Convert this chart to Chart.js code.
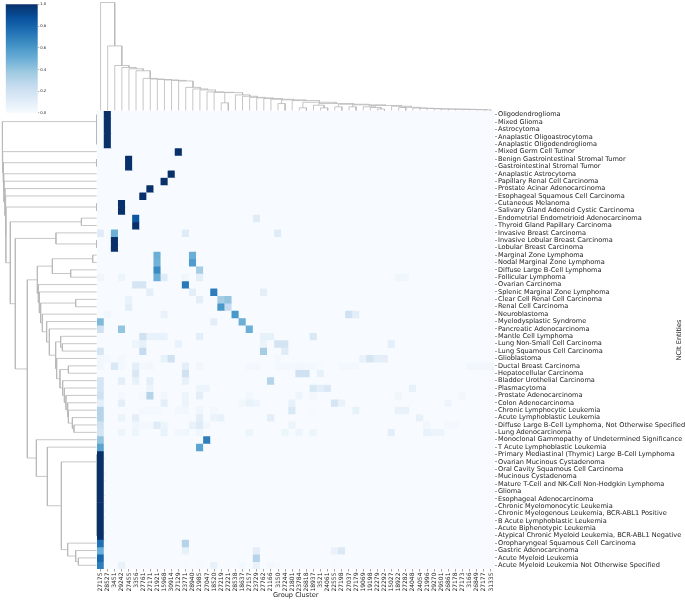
<!DOCTYPE html>
<html>
<head>
<meta charset="utf-8">
<title>NCIt Entities by Group Cluster</title>
<script src="https://cdn.jsdelivr.net/npm/chart.js@4"></script>
<style>
    html, body { margin: 0; padding: 0; background: #fff; overflow: hidden; }
    canvas { position: absolute; left: 0; top: 0; }
</style>
</head>
<body>
<canvas id="colorbarChart" width="685" height="602"></canvas>
<canvas id="topTreeChart" width="685" height="602"></canvas>
<canvas id="leftTreeChart" width="685" height="602"></canvas>
<canvas id="heatChart" width="685" height="602"></canvas>
<script>
const colLabels = ['27175', '28527', '3451', '29242', '27455', '3356', '27761', '27171', '21921', '15968',
    '30914', '27129', '23771', '28940', '21985', '27047', '18520', '27219', '27221', '28538',
    '18637', '27157', '23729', '27762', '21166', '3150', '27244', '21801', '23784', '26818',
    '18937', '3521', '24061', '22555', '27198', '27037', '27179', '19069', '19198', '22279',
    '22292', '15027', '18922', '27282', '24048', '24054', '21996', '29270', '29501', '26861',
    '27178', '27173', '3166', '26849', '27177', '31335'];

const rowLabels = ['Oligodendroglioma', 'Mixed Glioma', 'Astrocytoma', 'Anaplastic Oligoastrocytoma',
    'Anaplastic Oligodendroglioma', 'Mixed Germ Cell Tumor', 'Benign Gastrointestinal Stromal Tumor',
    'Gastrointestinal Stromal Tumor', 'Anaplastic Astrocytoma', 'Papillary Renal Cell Carcinoma',
    'Prostate Acinar Adenocarcinoma', 'Esophageal Squamous Cell Carcinoma', 'Cutaneous Melanoma',
    'Salivary Gland Adenoid Cystic Carcinoma', 'Endometrial Endometrioid Adenocarcinoma',
    'Thyroid Gland Papillary Carcinoma', 'Invasive Breast Carcinoma', 'Invasive Lobular Breast Carcinoma',
    'Lobular Breast Carcinoma', 'Marginal Zone Lymphoma', 'Nodal Marginal Zone Lymphoma',
    'Diffuse Large B-Cell Lymphoma', 'Follicular Lymphoma', 'Ovarian Carcinoma',
    'Splenic Marginal Zone Lymphoma', 'Clear Cell Renal Cell Carcinoma', 'Renal Cell Carcinoma',
    'Neuroblastoma', 'Myelodysplastic Syndrome', 'Pancreatic Adenocarcinoma', 'Mantle Cell Lymphoma',
    'Lung Non-Small Cell Carcinoma', 'Lung Squamous Cell Carcinoma', 'Glioblastoma',
    'Ductal Breast Carcinoma', 'Hepatocellular Carcinoma', 'Bladder Urothelial Carcinoma', 'Plasmacytoma',
    'Prostate Adenocarcinoma', 'Colon Adenocarcinoma', 'Chronic Lymphocytic Leukemia',
    'Acute Lymphoblastic Leukemia', 'Diffuse Large B-Cell Lymphoma, Not Otherwise Specified',
    'Lung Adenocarcinoma', 'Monoclonal Gammopathy of Undetermined Significance',
    'T Acute Lymphoblastic Leukemia', 'Primary Mediastinal (Thymic) Large B-Cell Lymphoma',
    'Ovarian Mucinous Cystadenoma', 'Oral Cavity Squamous Cell Carcinoma', 'Mucinous Cystadenoma',
    'Mature T-Cell and NK-Cell Non-Hodgkin Lymphoma', 'Glioma', 'Esophageal Adenocarcinoma',
    'Chronic Myelomonocytic Leukemia', 'Chronic Myelogenous Leukemia, BCR-ABL1 Positive',
    'B Acute Lymphoblastic Leukemia', 'Acute Biphenotypic Leukemia',
    'Atypical Chronic Myeloid Leukemia, BCR-ABL1 Negative', 'Oropharyngeal Squamous Cell Carcinoma',
    'Gastric Adenocarcinoma', 'Acute Myeloid Leukemia', 'Acute Myeloid Leukemia Not Otherwise Specified'];

// non zero cells: [row, column, value], row and column counted from 1 as in the picture
const heatCells = [
    [1,2,1],[2,2,1],[3,2,1],[4,2,1],[5,2,1],[6,12,1],[7,5,1],[8,5,1],[9,11,1],[10,10,1],[11,8,1],[12,7,1],
    [13,4,1],[14,4,1],[15,6,.85],[15,23,.12],[16,6,1],[17,1,.12],[17,3,.5],[17,13,.12],[17,26,.12],
    [18,3,1],[19,3,1],[20,9,.5],[20,14,.5],[21,9,.48],[21,14,.58],[22,9,.65],[22,15,.35],
    [23,1,.04],[23,4,.05],[23,9,.5],[23,10,.12],[23,13,.04],[23,15,.1],[23,43,.04],[23,44,.04],
    [24,6,.17],[24,7,.17],[24,13,.72],[25,8,.1],[25,14,.1],[25,17,.7],[25,24,.1],
    [26,5,.07],[26,15,.1],[26,18,.35],[26,19,.4],[27,5,.1],[27,18,.6],[27,19,.25],
    [28,2,.03],[28,10,.07],[28,20,.6],[28,36,.2],[28,37,.1],[29,1,.45],[29,17,.1],[29,21,.5],
    [30,1,.2],[30,4,.4],[30,22,.5],[31,7,.2],[31,8,.07],[31,9,.07],[31,10,.07],[31,15,.1],[31,24,.08],[31,25,.08],[31,31,.15],
    [32,6,.05],[32,7,.08],[32,12,.07],[32,24,.06],[32,26,.18],[32,27,.18],[32,42,.1],
    [33,1,.17],[33,7,.25],[33,24,.35],[33,27,.12],
    [34,1,.03],[34,2,.02],[34,4,.02],[34,10,.08],[34,11,.2],[34,26,.02],[34,38,.07],[34,39,.17],[34,40,.1],[34,41,.1],
    [35,1,.03],[35,3,.15],[35,4,.02],[35,6,.1],[35,7,.02],[35,8,.03],[35,13,.1],[35,15,.03],[35,22,.02],[35,23,.02],
    [35,26,.02],[35,27,.02],[35,28,.02],[35,29,.03],[35,30,.02],[35,31,.02],[35,32,.01],[35,35,.02],[35,36,.02],[35,37,.02],
    [35,53,.03],[35,54,.03],[35,55,.03],[35,56,.03],
    [36,6,.15],[36,13,.2],[36,29,.2],[36,30,.2],[36,32,.08],
    [37,1,.17],[37,4,.1],[37,6,.08],[37,8,.1],[37,13,.08],[37,25,.3],
    [38,1,.17],[38,8,.06],[38,15,.05],[38,16,.05],[38,31,.15],[38,32,.1],[38,33,.14],[38,45,.08],
    [39,1,.2],[39,4,.02],[39,7,.02],[39,8,.3],[39,10,.03],[39,13,.05],[39,15,.1],[39,22,.03],[39,29,.05],[39,31,.03],[39,43,.04],[39,52,.03],
    [40,1,.1],[40,4,.1],[40,10,.1],[40,13,.05],[40,21,.03],[40,22,.07],[40,23,.05],[40,28,.08],[40,34,.17],[40,35,.07],[40,50,.05],
    [41,1,.3],[41,7,.02],[41,8,.02],[41,9,.02],[41,12,.03],[41,13,.03],[41,15,.04],[41,17,.02],[41,28,.15],[41,31,.01],[41,37,.08],[41,43,.07],[41,44,.07],
    [42,1,.3],[42,4,.06],[42,6,.1],[42,15,.1],[42,17,.06],[42,18,.08],[42,25,.1],[42,46,.08],
    [43,1,.2],[43,6,.04],[43,7,.02],[43,8,.02],[43,9,.12],[43,10,.05],[43,14,.07],[43,15,.12],[43,16,.03],[43,28,.05],[43,47,.03],[43,50,.02],[43,51,.02],
    [44,1,.18],[44,4,.05],[44,6,.05],[44,10,.07],[44,12,.03],[44,13,.04],[44,15,.04],[44,22,.05],[44,27,.05],[44,29,.05],[44,31,.05],[44,42,.1],[44,47,.07],[44,48,.06],[44,49,.05],
    [45,1,.4],[45,16,.7],[46,1,.55],[46,15,.55],
    [47,1,1],[48,1,1],[49,1,1],[50,1,1],[51,1,1],[52,1,1],[53,1,1],[54,1,1],[55,1,1],[56,1,1],[57,1,1],[58,1,1],
    [59,1,.75],[59,13,.3],[60,1,.5],[60,13,.08],[60,23,.1],[60,34,.07],[60,35,.14],[61,1,.78],[61,23,.3],
    [62,1,.7],[62,4,.07],[62,13,.01],[62,15,.01],[62,17,.08],[62,21,.02],[62,23,.07],[62,25,.02],[62,26,.01],[62,34,.01],[62,51,.01]
];

// tree links, like a scipy linkage: two children and the distance they join at
// child >= 0 is a leaf position, child -k is the result of link number k (counted from 1)
const colLinkA = [54,53,52,51,50,49,48,47,46,45,44,42,-12,41,39,38,37,-17,35,-19,33,-21,31,30,-24,28,-26,27,25,-29,
    24,23,22,21,20,19,17,-37,16,15,14,13,12,11,10,9,8,7,6,5,4,3,2,1,0];
const colLinkB = [55,-1,-2,-3,-4,-5,-6,-7,-8,-9,-10,43,-11,-13,40,-15,-16,-14,36,-18,34,-20,32,-23,-22,29,-25,-27,26,-28,
    -30,-31,-32,-33,-34,-35,18,-36,-38,-39,-40,-41,-42,-43,-44,-45,-46,-47,-48,-49,-50,-51,-52,-53,-54];
const colLinkDist = [.7,.8,1,1.2,1.3,1.4,1.5,1.7,2,2.3,2.5,3,3.2,4.3,1.5,3,3.7,5,3.7,5.7,3.7,6.3,2.7,5.3,7,2.7,8.3,10,7,10.7,
    11.3,12,12.7,13.2,14.3,15.7,7.7,18,18.3,18.7,20.7,21.7,23.3,29.7,30.3,30.7,31.2,31.7,32.3,40,42,43.3,45.3,65,108.7];

const rowLinkA = [3,2,1,0,56,55,54,53,52,51,50,49,48,47,46,60,59,58,-15,45,44,42,41,40,39,38,37,36,34,-29,33,31,30,-33,29,28,27,25,-38,24,23,
    19,21,-42,-44,-45,17,16,-48,14,-50,12,-52,11,10,9,8,6,-58,5,-4];
const rowLinkB = [4,-1,-2,-3,57,-5,-6,-7,-8,-9,-10,-11,-12,-13,-14,61,-16,-17,-18,-19,-20,43,-22,-23,-24,-25,-26,-27,35,-28,-30,32,-32,-31,-34,-35,-36,26,-37,-39,-40,
    20,22,-43,-41,-21,18,-47,-46,15,-49,13,-51,-53,-54,-55,-56,7,-57,-59,-60];
const rowLinkDist = [.1,.1,.1,.1,.1,.1,.1,.1,.1,.1,.1,.1,.1,.1,.1,18.3,21,29,35.3,49.3,60.3,22.7,24.3,28.3,29,30.7,32.3,34,28.3,36.7,40,34.3,36,41,47.3,50,54.3,21,56,57.3,58.3,
    4,26,44.3,59.3,69.3,.3,40.7,81.3,15.3,86.3,.3,90.7,91.3,91.7,92.7,93,.3,93.5,94,94.3];

const colorbarTicks = [0, 0.2, 0.4, 0.6, 0.8, 1.0];
const bluesStops = ['#f7fbff', '#deebf7', '#c6dbef', '#9ecae1', '#6baed6', '#4292c6', '#2171b5', '#08519c', '#08306b'];

Chart.defaults.font.family = '"DejaVu Sans", sans-serif';
Chart.defaults.color = '#222';
Chart.defaults.animation = false;

const ROW_LABEL_SIZE = 6.6;
const COL_LABEL_SIZE = 6;
const TREE_COLOR = '#b8b8b8';
const TICK_COLOR = '#666';

function hexToRgb(hex) {
    return [1, 3, 5].map(function(i) { return parseInt(hex.substr(i, 2), 16); });
}

function blues(v) {
    const pos = v * (bluesStops.length - 1);
    const i = Math.min(Math.floor(pos), bluesStops.length - 2);
    const a = hexToRgb(bluesStops[i]);
    const b = hexToRgb(bluesStops[i + 1]);
    const t = pos - i;
    return 'rgb(' + a.map(function(c, k) { return Math.round(c + (b[k] - c) * t); }).join(',') + ')';
}

// turn the link table into the U shaped lines of a dendrogram
function treeLinks(linkA, linkB, linkDist) {
    const nodes = [];
    function child(id) {
        return id >= 0 ? { pos: id, dist: 0 } : nodes[-id - 1];
    }
    return linkDist.map(function(dist, i) {
        const a = child(linkA[i]);
        const b = child(linkB[i]);
        nodes.push({ pos: (a.pos + b.pos) / 2, dist: dist });
        return [[a.pos, a.dist], [a.pos, dist], [b.pos, dist], [b.pos, b.dist]];
    });
}

function treeDatasets(links, pointOf) {
    return links.map(function(link) {
        return {
            data: link.map(pointOf),
            showLine: true,
            borderColor: TREE_COLOR,
            borderWidth: 0.8,
            pointRadius: 0,
            clip: false
        };
    });
}

const noExtras = { legend: { display: false }, tooltip: { enabled: false } };

// heatmap, one dataset of floating bars per row
const cellValues = rowLabels.map(function() { return colLabels.map(function() { return 0; }); });
heatCells.forEach(function(cell) {
    cellValues[cell[0] - 1][cell[1] - 1] = cell[2];
});

const rowTitlePlugin = {
    id: 'rowTitle',
    afterDraw: function(chart) {
        const ctx = chart.ctx;
        ctx.save();
        ctx.translate(679, 340);
        ctx.rotate(-Math.PI / 2);
        ctx.font = ROW_LABEL_SIZE + 'px "DejaVu Sans"';
        ctx.fillStyle = '#222';
        ctx.textAlign = 'center';
        ctx.textBaseline = 'middle';
        ctx.fillText('NCIt Entities', 0, 0);
        ctx.restore();
    }
};

new Chart(document.getElementById('heatChart'), {
    type: 'bar',
    data: {
        labels: colLabels,
        datasets: cellValues.map(function(row, r) {
            return {
                data: row.map(function() { return [r - 0.5, r + 0.5]; }),
                backgroundColor: row.map(blues),
                barPercentage: 1,
                categoryPercentage: 1,
                grouped: false
            };
        })
    },
    options: {
        responsive: false,
        layout: { padding: { left: 97, top: 111 } },
        plugins: noExtras,
        scales: {
            x: {
                afterFit: function(scale) { scale.height = 33; },
                grid: { offset: false, drawOnChartArea: false, tickLength: 2.5, color: TICK_COLOR, lineWidth: 0.6 },
                border: { display: false },
                ticks: { autoSkip: false, minRotation: 90, maxRotation: 90, padding: 1, font: { size: COL_LABEL_SIZE } },
                title: { display: true, text: 'Group Cluster', font: { size: ROW_LABEL_SIZE }, padding: { top: 0, bottom: 2.5 } }
            },
            y: {
                type: 'linear',
                position: 'right',
                reverse: true,
                min: -0.5,
                max: rowLabels.length - 0.5,
                afterBuildTicks: function(scale) {
                    scale.ticks = rowLabels.map(function(label, i) { return { value: i }; });
                },
                afterFit: function(scale) { scale.width = 190.5; },
                grid: { drawOnChartArea: false, tickLength: 2.5, color: TICK_COLOR, lineWidth: 0.6 },
                border: { display: false },
                ticks: {
                    autoSkip: false,
                    padding: 1,
                    font: { size: ROW_LABEL_SIZE },
                    callback: function(value) { return rowLabels[value]; }
                }
            }
        }
    },
    plugins: [rowTitlePlugin]
});

// column dendrogram above the heatmap
new Chart(document.getElementById('topTreeChart'), {
    type: 'scatter',
    data: {
        datasets: treeDatasets(treeLinks(colLinkA, colLinkB, colLinkDist), function(p) {
            return { x: p[0], y: p[1] };
        })
    },
    options: {
        responsive: false,
        layout: { padding: { left: 97, right: 190.5, top: 2.5, bottom: 491.5 } },
        plugins: noExtras,
        scales: {
            x: { display: false, min: -0.5, max: colLabels.length - 0.5 },
            y: { display: false, min: 0, max: 108.7 }
        }
    }
});

// row dendrogram left of the heatmap
new Chart(document.getElementById('leftTreeChart'), {
    type: 'scatter',
    data: {
        datasets: treeDatasets(treeLinks(rowLinkA, rowLinkB, rowLinkDist), function(p) {
            return { x: p[1], y: p[0] };
        })
    },
    options: {
        responsive: false,
        layout: { padding: { left: 2.3, right: 588.3, top: 111, bottom: 33 } },
        plugins: noExtras,
        scales: {
            x: { display: false, reverse: true, min: 0, max: 94.3 },
            y: { display: false, reverse: true, min: -0.5, max: rowLabels.length - 0.5 }
        }
    }
});

// colour bar, one bar filled with the same ramp as the cells
new Chart(document.getElementById('colorbarChart'), {
    type: 'bar',
    data: {
        labels: ['value'],
        datasets: [{
            data: [1],
            barPercentage: 1,
            categoryPercentage: 1,
            backgroundColor: function(context) {
                const area = context.chart.chartArea;
                if (!area) {
                    return null;
                }
                const fill = context.chart.ctx.createLinearGradient(0, area.bottom, 0, area.top);
                bluesStops.forEach(function(stop, i) {
                    fill.addColorStop(i / (bluesStops.length - 1), stop);
                });
                return fill;
            }
        }]
    },
    options: {
        responsive: false,
        layout: { padding: { left: 5.7, top: 4.3, bottom: 489 } },
        plugins: noExtras,
        scales: {
            x: { display: false },
            y: {
                position: 'right',
                min: 0,
                max: 1,
                afterBuildTicks: function(scale) {
                    scale.ticks = colorbarTicks.map(function(v) { return { value: v }; });
                },
                afterFit: function(scale) { scale.width = 647.3; },
                grid: { drawOnChartArea: false, tickLength: 1.5, color: TICK_COLOR, lineWidth: 0.5 },
                border: { display: false },
                ticks: {
                    padding: 1,
                    font: { size: 3.8 },
                    callback: function(value) { return value.toFixed(1); }
                }
            }
        }
    }
});
</script>
</body>
</html>
